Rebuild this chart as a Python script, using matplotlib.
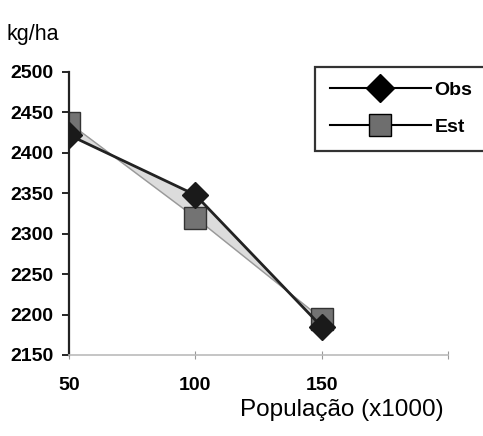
import matplotlib.pyplot as plt
from matplotlib.lines import Line2D

plt.rcParams['font.family'] = ['Liberation Sans', 'DejaVu Sans']

# dados
populacao = [50, 100, 150]
obs = [2422, 2348, 2185]
est = [2437, 2320, 2195]
yticks = [2150, 2200, 2250, 2300, 2350, 2400, 2450, 2500]
xticks = [50, 100, 150, 200]
xticklabels = ['50', '100', '150', '']

fig = plt.figure(figsize=(4.83, 4.36), dpi=100)
ax = fig.add_axes([0.1429, 0.1858, 0.7846, 0.6491])

# faixa entre as curvas
ax.fill_between(populacao, obs, est, color='#dcdcdc', zorder=1)
ax.plot(populacao, est, color='#999999', lw=1.0, marker='s', ms=16,
        mfc='#737373', mec='#333333', mew=1.0, zorder=2)
ax.plot(populacao, obs, color='#222222', lw=2.0, marker='D', ms=13,
        mfc='#1a1a1a', mec='#1a1a1a', zorder=3)

ax.set_xlim(50, 200)
ax.set_ylim(2150, 2500)
ax.set_yticks(yticks)
ax.set_xticks(xticks)
ax.set_xticklabels(xticklabels)
for lab in ax.get_yticklabels() + ax.get_xticklabels():
    lab.set_fontweight('bold')
    lab.set_fontsize(14)
ax.tick_params(axis='y', direction='out', length=5, width=1.2, pad=6)
ax.tick_params(axis='x', direction='inout', length=6, width=0.8,
               color='#999999', pad=13)

ax.spines['top'].set_visible(False)
ax.spines['right'].set_visible(False)
ax.spines['left'].set_linewidth(1.6)
ax.spines['left'].set_color('#222222')
ax.spines['bottom'].set_color('#bbbbbb')
ax.spines['bottom'].set_linewidth(1.2)

fig.text(7 / 483, 1 - 40 / 436, 'kg/ha', fontsize=15.5)
fig.text(444 / 483, 1 - 416 / 436, 'População (x1000)', fontsize=17.5,
         ha='right')

handles = [
    Line2D([], [], color='black', lw=1.5, marker='D', ms=14,
           mfc='black', mec='black'),
    Line2D([], [], color='black', lw=1.5, marker='s', ms=16,
           mfc='#6e6e6e', mec='black'),
]
leg = fig.legend(handles, ['Obs', 'Est'], loc='upper left',
                 bbox_to_anchor=(315 / 483, 1 - 67 / 436),
                 prop={'weight': 'bold', 'size': 14}, frameon=True,
                 fancybox=False, handlelength=5.2, handletextpad=0.2,
                 borderpad=0.75, labelspacing=1.0, borderaxespad=0)
leg.get_frame().set_edgecolor('black')
leg.get_frame().set_linewidth(1.6)

fig.savefig('out.png', dpi=100)
